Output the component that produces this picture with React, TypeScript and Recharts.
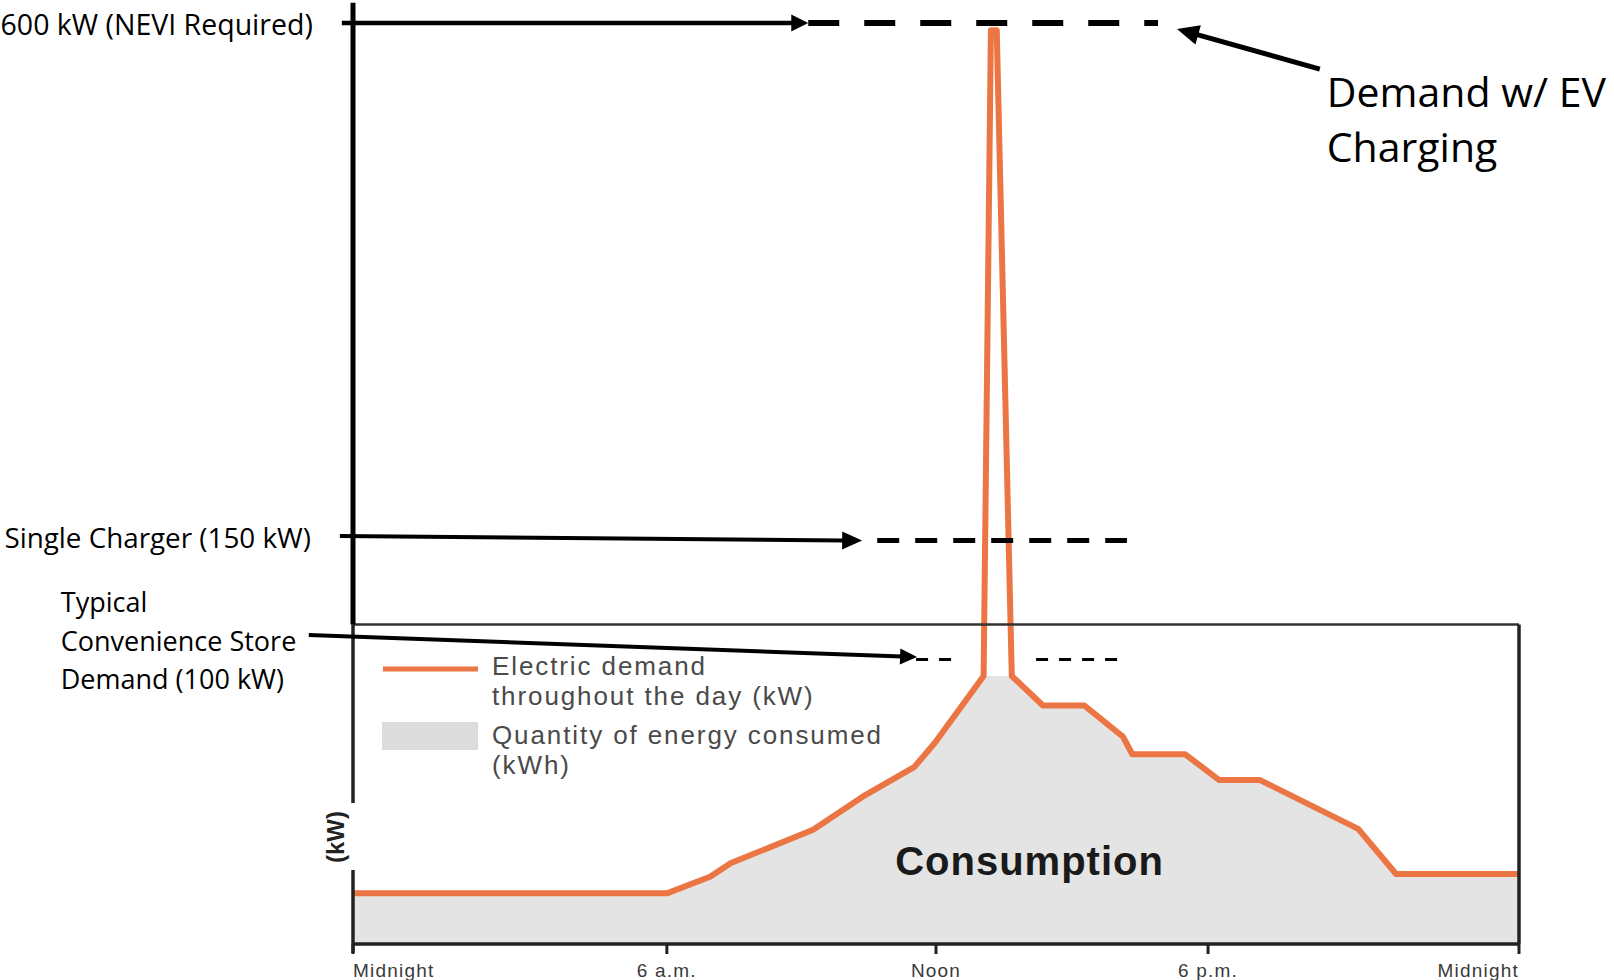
import React from 'react';
import { ComposedChart, Area, Line, XAxis, YAxis, ReferenceLine, ReferenceDot, Legend } from 'recharts';

// hour of day for each point of the profile
const hours = [0, 6.46, 7.35, 7.78, 9.47, 10.49, 11.55, 11.97, 12.98, 13.13, 13.25, 13.56, 14.2, 15.05, 15.85, 16.04, 17.13, 17.83, 18.67, 20.69, 21.47, 24];
// relative demand (100 = NEVI 600 kW level); the spike is the EV charging peak
const demand = [5.5, 5.5, 7.3, 8.8, 12.4, 16.0, 19.2, 21.8, 29.1, 99.2, 99.2, 29.1, 25.9, 25.9, 22.5, 20.6, 20.6, 17.8, 17.8, 12.5, 7.6, 7.6];
// store consumption only (no charging spike)
const consumption = [5.5, 5.5, 7.3, 8.8, 12.4, 16.0, 19.2, 21.8, 29.1, 29.1, 29.1, 29.1, 25.9, 25.9, 22.5, 20.6, 20.6, 17.8, 17.8, 12.5, 7.6, 7.6];

const tickHours = [0, 6.46, 12, 17.6, 24];
const tickLabels = ['Midnight', '6 a.m.', 'Noon', '6 p.m.', 'Midnight'];

const neviLevel = 100;
const chargerLevel = 43.8;
const storeLevel = 30.9;

const ORANGE = '#EC7544';
const ANNOT_FONT = "'Open Sans', 'Noto Sans', sans-serif";
const CHART_FONT = "'Liberation Sans', Arial, sans-serif";

const data = hours.map((hour, i) => ({ hour, demand: demand[i], consumption: consumption[i] }));

type Note = { t: string; dx: number; dy: number; size: number; anchor: 'start' | 'end' };

const arrowShape = (head: number, half: number, notes: Note[] = []) => (p: any) => {
  const { x1, y1, x2, y2, stroke, strokeWidth } = p;
  const dx = x2 - x1;
  const dy = y2 - y1;
  const len = Math.hypot(dx, dy) || 1;
  const ux = dx / len;
  const uy = dy / len;
  const bx = x2 - ux * head;
  const by = y2 - uy * head;
  const pts = `${x2},${y2} ${bx - uy * half},${by + ux * half} ${bx + uy * half},${by - ux * half}`;
  return (
    <g>
      <line x1={x1} y1={y1} x2={bx + ux * 2} y2={by + uy * 2} stroke={stroke} strokeWidth={strokeWidth} />
      <polygon points={pts} fill={stroke} />
      {notes.map((n, i) => (
        <text key={i} x={x1 + n.dx} y={y1 + n.dy} textAnchor={n.anchor} fontFamily={ANNOT_FONT} fontSize={n.size} fill="#000">
          {n.t}
        </text>
      ))}
    </g>
  );
};

const leftBorderShape = (p: any) => {
  const { x1, y1, y2, stroke, strokeWidth } = p;
  return (
    <g>
      <line x1={x1} y1={y1} x2={x1} y2={y2 - 141} stroke={stroke} strokeWidth={strokeWidth} />
      <line x1={x1} y1={y2 - 74} x2={x1} y2={y2 + 9} stroke={stroke} strokeWidth={strokeWidth} />
      <text
        x={x1 - 18}
        y={y2 - 107}
        transform={`rotate(-90 ${x1 - 18} ${y2 - 107})`}
        textAnchor="middle"
        dominantBaseline="central"
        fontFamily={CHART_FONT}
        fontWeight="bold"
        fontSize={24}
        fill="#222"
      >
        (kW)
      </text>
    </g>
  );
};

const HourTick = (props: any) => {
  const { x, y, index } = props;
  const last = tickLabels.length - 1;
  const anchor = index === 0 ? 'start' : index === last ? 'end' : 'middle';
  return (
    <text x={x} y={y} dy={23} textAnchor={anchor} fontFamily={CHART_FONT} fontSize={19} letterSpacing={1.2} fill="#3a3a3a">
      {tickLabels[index]}
    </text>
  );
};

const renderLegend = () => (
  <svg width={560} height={135} style={{ display: 'block' }}>
    <line x1={13} y1={19} x2={108} y2={19} stroke={ORANGE} strokeWidth={5} />
    <rect x={12} y={72} width={96} height={28} fill="#DCDCDC" />
    <g fontFamily={CHART_FONT} fontSize={26} letterSpacing={1.9} fill="#4a4a4a">
      <text x={122} y={25}>Electric demand</text>
      <text x={122} y={55}>throughout the day (kW)</text>
      <text x={122} y={94}>Quantity of energy consumed</text>
      <text x={122} y={124}>(kWh)</text>
    </g>
  </svg>
);

export default function App() {
  return (
    <div style={{ position: 'absolute', left: 0, top: 0, width: 1614, height: 980, background: '#fff' }}>
      <ComposedChart width={1614} height={980} data={data} margin={{ top: 23, right: 95, bottom: 0, left: 353 }}>
        <XAxis
          dataKey="hour"
          type="number"
          domain={[0, 24]}
          ticks={tickHours}
          interval={0}
          height={36}
          tickSize={10}
          tickMargin={0}
          axisLine={{ stroke: '#222', strokeWidth: 3.5 }}
          tickLine={{ stroke: '#222', strokeWidth: 3 }}
          tick={<HourTick />}
        />
        <YAxis type="number" domain={[0, 100]} hide />
        <Area
          type="linear"
          dataKey="consumption"
          name="Quantity of energy consumed (kWh)"
          fill="#E4E4E4"
          fillOpacity={1}
          stroke="none"
          isAnimationActive={false}
        />
        <Line
          type="linear"
          dataKey="demand"
          name="Electric demand throughout the day (kW)"
          stroke={ORANGE}
          strokeWidth={6}
          strokeLinejoin="round"
          dot={false}
          activeDot={false}
          isAnimationActive={false}
        />

        {/* frame of the original consumption chart */}
        <ReferenceLine segment={[{ x: 0, y: 34.7 }, { x: 24, y: 34.7 }]} stroke="#333" strokeWidth={2.5} ifOverflow="visible" />
        <ReferenceLine segment={[{ x: 24, y: 34.7 }, { x: 24, y: 0 }]} stroke="#222" strokeWidth={3.5} ifOverflow="visible" />
        <ReferenceLine segment={[{ x: 0, y: 34.7 }, { x: 0, y: 0 }]} stroke="#222" strokeWidth={3.5} ifOverflow="visible" shape={leftBorderShape} />
        <ReferenceLine segment={[{ x: 0, y: 102.2 }, { x: 0, y: 34.7 }]} stroke="#000" strokeWidth={5} ifOverflow="visible" />

        {/* demand levels */}
        <ReferenceLine segment={[{ x: 9.37, y: neviLevel }, { x: 16.57, y: neviLevel }]} stroke="#000" strokeWidth={6} strokeDasharray="31 25" ifOverflow="visible" />
        <ReferenceLine segment={[{ x: 10.79, y: chargerLevel }, { x: 15.93, y: chargerLevel }]} stroke="#000" strokeWidth={5} strokeDasharray="22 16" ifOverflow="visible" />
        <ReferenceLine segment={[{ x: 11.59, y: storeLevel }, { x: 12.33, y: storeLevel }]} stroke="#000" strokeWidth={3} strokeDasharray="12 11" ifOverflow="visible" />
        <ReferenceLine segment={[{ x: 14.06, y: storeLevel }, { x: 15.79, y: storeLevel }]} stroke="#000" strokeWidth={3} strokeDasharray="12 11" ifOverflow="visible" />

        {/* annotation arrows */}
        <ReferenceLine
          segment={[{ x: -0.23, y: neviLevel }, { x: 9.37, y: neviLevel }]}
          stroke="#000"
          strokeWidth={4.5}
          ifOverflow="visible"
          shape={arrowShape(17, 8.5, [{ t: '600 kW (NEVI Required)', dx: -29, dy: 12, size: 28.5, anchor: 'end' }])}
        />
        <ReferenceLine
          segment={[{ x: -0.27, y: 44.3 }, { x: 10.48, y: chargerLevel }]}
          stroke="#000"
          strokeWidth={4}
          ifOverflow="visible"
          shape={arrowShape(20, 9, [{ t: 'Single Charger (150 kW)', dx: -29, dy: 12, size: 27.8, anchor: 'end' }])}
        />
        <ReferenceLine
          segment={[{ x: -0.91, y: 33.55 }, { x: 11.61, y: 31.16 }]}
          stroke="#000"
          strokeWidth={4}
          ifOverflow="visible"
          shape={arrowShape(17, 8, [
            { t: 'Typical', dx: -248, dy: -23, size: 27, anchor: 'start' },
            { t: 'Convenience Store', dx: -248, dy: 16, size: 27, anchor: 'start' },
            { t: 'Demand (100 kW)', dx: -248, dy: 54, size: 27, anchor: 'start' },
          ])}
        />
        <ReferenceLine
          segment={[{ x: 19.9, y: 95.0 }, { x: 16.96, y: 99.35 }]}
          stroke="#000"
          strokeWidth={5}
          ifOverflow="visible"
          shape={arrowShape(22, 10, [
            { t: 'Demand w/ EV', dx: 7, dy: 38, size: 41, anchor: 'start' },
            { t: 'Charging', dx: 7, dy: 93, size: 41, anchor: 'start' },
          ])}
        />

        <ReferenceDot
          x={11.16}
          y={7.5}
          ifOverflow="visible"
          shape={(p: any) => (
            <text x={p.cx} y={p.cy} fontFamily={CHART_FONT} fontWeight="bold" fontSize={40} letterSpacing={1} fill="#1a1a1a">
              Consumption
            </text>
          )}
        />

        <Legend
          layout="vertical"
          align="center"
          verticalAlign="middle"
          wrapperStyle={{ left: 370, top: 650, width: 560, height: 135 }}
          content={renderLegend}
        />
      </ComposedChart>
    </div>
  );
}
